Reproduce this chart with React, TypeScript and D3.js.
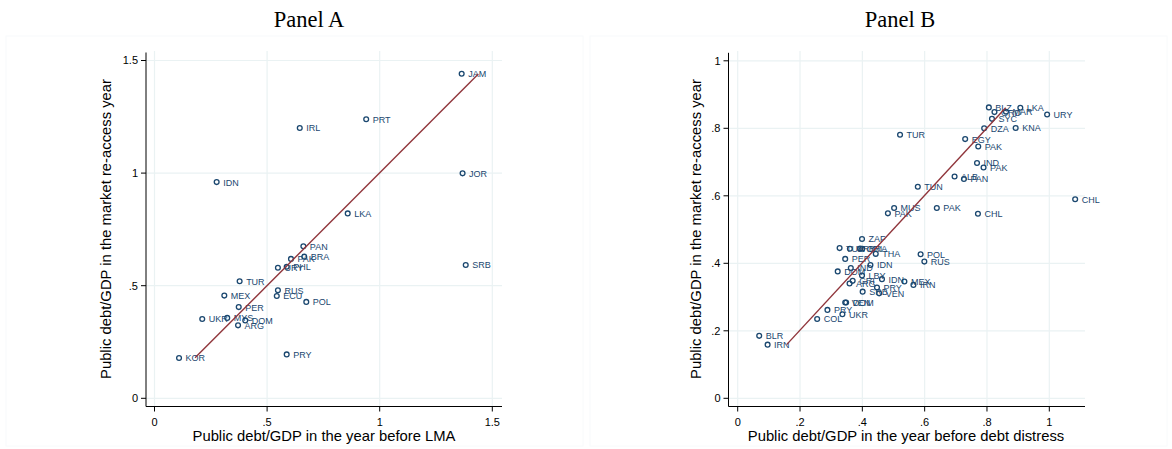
import React from "react";
import * as d3 from "d3";

// ---------- Data ----------
const panelACodes = ["JAM", "PRT", "IRL", "IDN", "JOR", "LKA", "PAN", "BRA", "PAK", "SRB", "URY", "PHL", "TUR", "MEX", "RUS", "ECU", "POL", "PER", "UKR", "MYS", "DOM", "ARG", "PRY", "KOR"];
const panelAX = [1.364, 0.940, 0.645, 0.276, 1.368, 0.858, 0.661, 0.665, 0.606, 1.382, 0.548, 0.587, 0.378, 0.310, 0.548, 0.543, 0.674, 0.374, 0.212, 0.323, 0.403, 0.371, 0.587, 0.109];
const panelAY = [1.441, 1.239, 1.200, 0.960, 0.999, 0.821, 0.675, 0.629, 0.619, 0.592, 0.580, 0.584, 0.520, 0.456, 0.480, 0.454, 0.428, 0.405, 0.352, 0.357, 0.346, 0.324, 0.195, 0.179];
const panelALine = [[0.18, 0.18], [1.438, 1.44]];
const panelAXTicks = [0, 0.5, 1, 1.5];
const panelAYTicks = [0, 0.5, 1, 1.5];
const panelAXTickLabels = ["0", ".5", "1", "1.5"];
const panelAYTickLabels = ["0", ".5", "1", "1.5"];

const panelBCodes = ["BLZ", "LKA", "GRD", "MAR", "URY", "SYC", "DZA", "KNA", "TUR", "EGY", "PAK", "IND", "PAK", "ALB", "PAN", "TUN", "CHL", "MUS", "PAK", "PAK", "CHL",
  "ZAF", "TUR", "URY", "CRI", "BRA", "THA", "POL", "PER", "RUS", "IDN", "IND", "DOM", "LBY", "IDN", "CRI", "ARG", "MEX", "IRN", "PRY", "SRB", "VEN", "VEN", "DOM", "PRY", "UKR", "COL", "BLR", "IRN"];
const panelBX = [0.806, 0.907, 0.824, 0.861, 0.993, 0.816, 0.791, 0.892, 0.521, 0.730, 0.772, 0.768, 0.789, 0.696, 0.726, 0.578, 1.083, 0.502, 0.639, 0.482, 0.771,
  0.399, 0.327, 0.360, 0.393, 0.400, 0.443, 0.587, 0.345, 0.599, 0.426, 0.363, 0.321, 0.399, 0.463, 0.369, 0.359, 0.535, 0.564, 0.447, 0.401, 0.454, 0.345, 0.348, 0.288, 0.336, 0.255, 0.069, 0.096];
const panelBY = [0.862, 0.861, 0.848, 0.849, 0.841, 0.828, 0.800, 0.801, 0.781, 0.768, 0.746, 0.697, 0.684, 0.657, 0.650, 0.627, 0.590, 0.564, 0.564, 0.548, 0.547,
  0.472, 0.445, 0.443, 0.444, 0.443, 0.428, 0.427, 0.413, 0.405, 0.395, 0.386, 0.376, 0.364, 0.353, 0.348, 0.340, 0.346, 0.336, 0.328, 0.316, 0.311, 0.284, 0.284, 0.262, 0.249, 0.235, 0.185, 0.159];
const panelBLine = [[0.157, 0.159], [0.860, 0.861]];
const panelBXTicks = [0, 0.2, 0.4, 0.6, 0.8, 1];
const panelBYTicks = [0, 0.2, 0.4, 0.6, 0.8, 1];
const panelBXTickLabels = ["0", ".2", ".4", ".6", ".8", "1"];
const panelBYTickLabels = ["0", ".2", ".4", ".6", ".8", "1"];

// ---------- Styles ----------
const NAVY = "#1a476f";
const MAROON = "#90353b";
const GRID = "#eaf2f3";
const SANS = "'Liberation Sans', Arial, Helvetica, sans-serif";

type PanelProps = {
  title: string;
  titleX: number;
  frame: [number, number, number, number];
  xDomain: [number, number];
  xRange: [number, number];
  yDomain: [number, number];
  yRange: [number, number];
  plotLeft: number;
  plotRight: number;
  plotTop: number;
  plotBottom: number;
  codes: string[];
  xs: number[];
  ys: number[];
  line: number[][];
  xTicks: number[];
  yTicks: number[];
  xTickLabels: string[];
  yTickLabels: string[];
  xTitle: string;
  xTitleX: number;
  yTitle: string;
  yTitleX: number;
};

function Panel(p: PanelProps) {
  const x = d3.scaleLinear().domain(p.xDomain).range(p.xRange);
  const y = d3.scaleLinear().domain(p.yDomain).range(p.yRange);
  const lineGen = d3.line<number[]>().x((d) => x(d[0])).y((d) => y(d[1]));
  const yMid = 229;
  return (
    <g>
      <rect x={p.frame[0]} y={p.frame[1]} width={p.frame[2]} height={p.frame[3]} fill="white" stroke="#f8fafb" strokeWidth={1} />
      <text x={p.titleX} y={27} textAnchor="middle" fontFamily="'Liberation Serif', 'Times New Roman', serif" fontSize={22.5} fill="#000">{p.title}</text>
      {/* grid */}
      {p.yTicks.map((t, i) => (
        <line key={"gy" + i} x1={p.plotLeft} x2={p.plotRight} y1={y(t)} y2={y(t)} stroke={GRID} strokeWidth={1.2} />
      ))}
      {p.xTicks.map((t, i) => (
        <line key={"gx" + i} x1={x(t)} x2={x(t)} y1={p.plotTop} y2={p.plotBottom} stroke={GRID} strokeWidth={1.2} />
      ))}
      {/* axes */}
      <line x1={p.plotLeft} x2={p.plotLeft} y1={y(p.yTicks[p.yTicks.length - 1]) - 8} y2={p.plotBottom} stroke="#000" strokeWidth={1} />
      <line x1={p.plotLeft} x2={p.plotRight} y1={p.plotBottom} y2={p.plotBottom} stroke="#000" strokeWidth={1} />
      {p.yTicks.map((t, i) => (
        <g key={"ty" + i}>
          <line x1={p.plotLeft - 5} x2={p.plotLeft} y1={y(t)} y2={y(t)} stroke="#000" strokeWidth={1} />
          <text x={p.plotLeft - 8} y={y(t)} dy="0.35em" textAnchor="end" fontFamily={SANS} fontSize={11} fill="#000">{p.yTickLabels[i]}</text>
        </g>
      ))}
      {p.xTicks.map((t, i) => (
        <g key={"tx" + i}>
          <line x1={x(t)} x2={x(t)} y1={p.plotBottom} y2={p.plotBottom + 5} stroke="#000" strokeWidth={1} />
          <text x={x(t)} y={p.plotBottom + 19} textAnchor="middle" fontFamily={SANS} fontSize={11} fill="#000">{p.xTickLabels[i]}</text>
        </g>
      ))}
      <text x={p.xTitleX} y={441} textAnchor="middle" fontFamily={SANS} fontSize={14.8} fill="#000">{p.xTitle}</text>
      <text transform={`translate(${p.yTitleX},${yMid}) rotate(-90)`} textAnchor="middle" fontFamily={SANS} fontSize={14.8} fill="#000">{p.yTitle}</text>
      {/* points */}
      {p.codes.map((c, i) => (
        <g key={"pt" + i}>
          <circle cx={x(p.xs[i])} cy={y(p.ys[i])} r={2.4} fill="none" stroke={NAVY} strokeWidth={1.3} />
          <text x={x(p.xs[i]) + 6.5} y={y(p.ys[i])} dy="0.38em" fontFamily={SANS} fontSize={9} fill={NAVY}>{c}</text>
        </g>
      ))}
      <path d={lineGen(p.line) || ""} fill="none" stroke={MAROON} strokeWidth={1.4} />
    </g>
  );
}

export default function App() {
  return (
    <div style={{ position: "absolute", left: 0, top: 0 }}>
      <svg width={1172} height={449} style={{ display: "block", background: "white" }}>
        <Panel
          title="Panel A"
          titleX={309}
          frame={[6, 36, 577, 410]}
          xDomain={[0, 1.5]}
          xRange={[154.5, 492.3]}
          yDomain={[0, 1.5]}
          yRange={[398.3, 60.5]}
          plotLeft={146}
          plotRight={502}
          plotTop={51}
          plotBottom={406.5}
          codes={panelACodes}
          xs={panelAX}
          ys={panelAY}
          line={panelALine}
          xTicks={panelAXTicks}
          yTicks={panelAYTicks}
          xTickLabels={panelAXTickLabels}
          yTickLabels={panelAYTickLabels}
          xTitle="Public debt/GDP in the year before LMA"
          xTitleX={324}
          yTitle="Public debt/GDP in the market re-access year"
          yTitleX={111}
        />
        <Panel
          title="Panel B"
          titleX={900}
          frame={[590, 36, 577, 410]}
          xDomain={[0, 1]}
          xRange={[737.7, 1049.3]}
          yDomain={[0, 1]}
          yRange={[398.3, 60.8]}
          plotLeft={728.5}
          plotRight={1085}
          plotTop={51}
          plotBottom={406.5}
          codes={panelBCodes}
          xs={panelBX}
          ys={panelBY}
          line={panelBLine}
          xTicks={panelBXTicks}
          yTicks={panelBYTicks}
          xTickLabels={panelBXTickLabels}
          yTickLabels={panelBYTickLabels}
          xTitle="Public debt/GDP in the year before debt distress"
          xTitleX={906}
          yTitle="Public debt/GDP in the market re-access year"
          yTitleX={701}
        />
      </svg>
    </div>
  );
}
